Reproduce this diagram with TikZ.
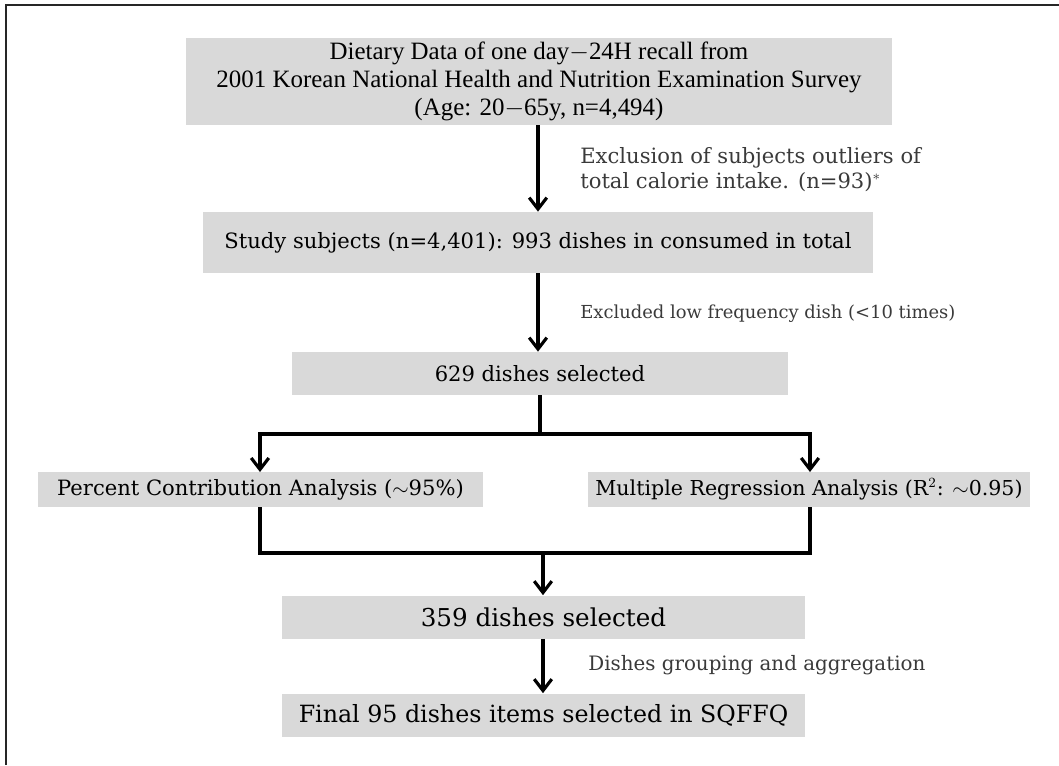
\documentclass[tikz,border=0pt]{standalone}
\usepackage{fontspec}
\setmainfont{DejaVu Serif}
\newfontfamily\headfont{Liberation Serif}
\usetikzlibrary{arrows.meta}
\definecolor{boxfill}{HTML}{D9D9D9}
\definecolor{noteline}{HTML}{3A3A3A}
\tikzset{
  box/.style  = {fill=boxfill, inner sep=0pt, align=center},
  note/.style = {anchor=west, inner sep=0pt, align=left, text=noteline},
  link/.style = {line width=1.8pt},
  flow/.style = {link, -{Straight Barb[length=6.5pt, width=10pt, line width=1.8pt]}}
}

\begin{document}
\begin{tikzpicture}[x=0.02cm, y=-0.02cm]
  \useasboundingbox (0,0) rectangle (1059,765);
  \draw[line width=1.1pt, black!85] (6,765) -- (6,5) -- (1059,5);

  \node[box, minimum width=14.12cm, minimum height=1.74cm, font=\headfont\fontsize{14.2}{16}\selectfont] (src) at (539,81.5)
       {Dietary Data of one day$-$24H recall from\\
        2001 Korean National Health and Nutrition Examination Survey\\
        (Age: 20$-$65y, n=4,494)};
  \node[box, minimum width=13.4cm, minimum height=1.22cm, font=\fontsize{12}{14}\selectfont] (subj) at (538,242.5)
       {Study subjects (n=4,401): 993 dishes in consumed in total};
  \node[box, minimum width=9.92cm, minimum height=0.86cm, font=\fontsize{12}{14}\selectfont] (sel629) at (540,373.5)
       {629 dishes selected};
  \node[box, minimum width=8.9cm, minimum height=0.7cm, font=\fontsize{12}{14}\selectfont] (pca) at (260.5,489.5)
       {Percent Contribution Analysis (${\sim}$95\%)};
  \node[box, minimum width=8.84cm, minimum height=0.7cm, font=\fontsize{11.7}{14}\selectfont] (mra) at (809,489.5)
       {Multiple Regression Analysis (R$^2$: ${\sim}$0.95)};
  \node[box, minimum width=10.46cm, minimum height=0.86cm, font=\fontsize{14}{16}\selectfont] (sel359) at (543.5,617)
       {359 dishes selected};
  \node[box, minimum width=10.46cm, minimum height=0.86cm, font=\fontsize{13.5}{16}\selectfont] (final) at (543.5,715)
       {Final 95 dishes items selected in SQFFQ};

  % side notes
  \node[note, font=\fontsize{12}{14}\selectfont] (excl) at (580,169.5) {Exclusion of subjects outliers of\\total calorie intake. (n=93)$^{*}$};
  \node[note, font=\fontsize{10.2}{14}\selectfont] (lowf) at (580,314) {Excluded low frequency dish (<10 times)};
  \node[note, font=\fontsize{11.3}{14}\selectfont] (grp) at (588,665) {Dishes grouping and aggregation};

  \coordinate (split) at (540,434);
  \coordinate (pcaIn) at (260,472);
  \coordinate (mraIn) at (810,472);
  \coordinate (merge) at (543,553);

  \draw[flow] (src.south -| 538,0) -- (subj.north -| 538,0);
  \draw[flow] (subj.south -| 538,0) -- (sel629.north -| 538,0);
  \draw[link] (sel629.south -| split) -- (split);
  \draw[flow] (split) -| (pcaIn);
  \draw[flow] (split) -| (mraIn);
  \draw[link] (pca.south -| pcaIn) |- (merge) -| (mra.south -| mraIn);
  \draw[flow] (merge) -- (sel359.north -| merge);
  \draw[flow] (sel359.south -| merge) -- (final.north -| merge);
\end{tikzpicture}
\end{document}
